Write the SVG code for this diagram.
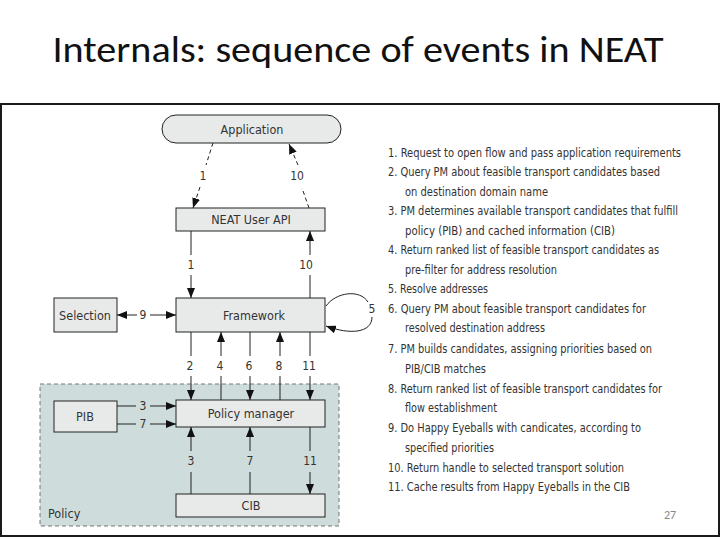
<svg xmlns="http://www.w3.org/2000/svg" width="720" height="540" viewBox="0 0 720 540">
<defs>
<style>
.box{fill:#e8eaea;stroke:#222;stroke-width:1}
.lbl{font-family:"Liberation Sans Narrow","DejaVu Sans Condensed","Liberation Sans",sans-serif;font-size:12.5px;fill:#333;text-anchor:middle;dominant-baseline:central}
.num{font-family:"Liberation Sans Narrow","DejaVu Sans Condensed","Liberation Sans",sans-serif;font-size:12px;fill:#333;text-anchor:middle;dominant-baseline:central}
.ln{stroke:#222;stroke-width:1;fill:none}
.dash{stroke:#222;stroke-width:1;fill:none;stroke-dasharray:4 3}
.lst{font-family:"Liberation Sans Narrow","DejaVu Sans Condensed","Liberation Sans",sans-serif;font-size:11.8px;fill:#333}
</style>
<marker id="ah" viewBox="0 0 10 8" refX="10" refY="4" markerWidth="10" markerHeight="8" markerUnits="userSpaceOnUse" orient="auto">
<path d="M0,0 L10,4 L0,8 z" fill="#111"/>
</marker>
</defs>
<rect x="0" y="0" width="720" height="540" fill="#fff"/>
<text x="358" y="62" font-family="Carlito,'Liberation Sans',sans-serif" font-size="36" fill="#111" text-anchor="middle" textLength="611" lengthAdjust="spacingAndGlyphs">Internals: sequence of events in NEAT</text>
<rect x="1" y="104" width="718" height="432" fill="none" stroke="#1a1a1a" stroke-width="2"/>

<g id="policy">
<rect x="40" y="384" width="299" height="142" fill="#cfdcdc" stroke="#777" stroke-width="1" stroke-dasharray="4 3"/>
<text x="48" y="513" class="lbl" style="text-anchor:start">Policy</text>
</g>
<g id="application">
<rect x="162" y="115" width="179" height="28" rx="14" class="box"/>
<text x="252" y="129.5" class="lbl">Application</text>
</g>
<g id="neat-user-api">
<rect x="176" y="208" width="149" height="23" class="box"/>
<text x="251" y="219.5" class="lbl">NEAT User API</text>
</g>
<g id="framework">
<rect x="176" y="298" width="149" height="34" class="box"/>
<text x="254" y="315" class="lbl">Framework</text>
</g>
<g id="selection">
<rect x="54" y="298" width="63" height="34" class="box"/>
<text x="85" y="315" class="lbl">Selection</text>
</g>
<g id="policy-manager">
<rect x="176" y="400" width="149" height="27" class="box"/>
<text x="251" y="413.5" class="lbl">Policy manager</text>
</g>
<g id="pib">
<rect x="54" y="401" width="63" height="31" class="box"/>
<text x="85" y="416" class="lbl">PIB</text>
</g>
<g id="cib">
<rect x="176" y="494" width="149" height="23" class="box"/>
<text x="251" y="505.5" class="lbl">CIB</text>
</g>

<g id="connectors">
<line x1="213" y1="143" x2="206" y2="165" class="dash"/>
<line x1="200" y1="187" x2="193" y2="208" class="dash" marker-end="url(#ah)"/>
<text x="203" y="176" class="num">1</text>
<line x1="309" y1="208" x2="302" y2="188" class="dash"/>
<line x1="298" y1="165" x2="289" y2="144" class="dash" marker-end="url(#ah)"/>
<text x="297" y="176" class="num">10</text>
<line x1="191" y1="231" x2="191" y2="255" class="ln"/>
<line x1="191" y1="275" x2="191" y2="298" class="ln" marker-end="url(#ah)"/>
<text x="191" y="265" class="num">1</text>
<line x1="310" y1="298" x2="310" y2="275" class="ln"/>
<line x1="310" y1="255" x2="310" y2="231" class="ln" marker-end="url(#ah)"/>
<text x="306" y="265" class="num">10</text>
<line x1="137" y1="315" x2="117" y2="315" class="ln" marker-end="url(#ah)"/>
<line x1="150" y1="315" x2="176" y2="315" class="ln" marker-end="url(#ah)"/>
<text x="143" y="315" class="num">9</text>
<path d="M326,306 C336,292 360,289 368,302" class="ln"/>
<path d="M372,317 C372,333 350,335 326,326" class="ln" marker-end="url(#ah)"/>
<text x="372" y="309" class="num">5</text>
<line x1="191" y1="332" x2="191" y2="356" class="ln"/>
<line x1="191" y1="376" x2="191" y2="400" class="ln" marker-end="url(#ah)"/>
<text x="190" y="366" class="num">2</text>
<line x1="221" y1="400" x2="221" y2="376" class="ln"/>
<line x1="221" y1="356" x2="221" y2="332" class="ln" marker-end="url(#ah)"/>
<text x="220" y="366" class="num">4</text>
<line x1="250" y1="332" x2="250" y2="356" class="ln"/>
<line x1="250" y1="376" x2="250" y2="400" class="ln" marker-end="url(#ah)"/>
<text x="249" y="366" class="num">6</text>
<line x1="280" y1="400" x2="280" y2="376" class="ln"/>
<line x1="280" y1="356" x2="280" y2="332" class="ln" marker-end="url(#ah)"/>
<text x="279" y="366" class="num">8</text>
<line x1="310" y1="332" x2="310" y2="356" class="ln"/>
<line x1="310" y1="376" x2="310" y2="400" class="ln" marker-end="url(#ah)"/>
<text x="309" y="366" class="num">11</text>
<line x1="117" y1="406" x2="136" y2="406" class="ln"/>
<line x1="150" y1="406" x2="176" y2="406" class="ln" marker-end="url(#ah)"/>
<text x="143" y="406" class="num">3</text>
<line x1="117" y1="424" x2="136" y2="424" class="ln"/>
<line x1="150" y1="424" x2="176" y2="424" class="ln" marker-end="url(#ah)"/>
<text x="143" y="424" class="num">7</text>
<line x1="191" y1="494" x2="191" y2="472" class="ln"/>
<line x1="191" y1="451" x2="191" y2="427" class="ln" marker-end="url(#ah)"/>
<text x="191" y="461" class="num">3</text>
<line x1="250" y1="494" x2="250" y2="472" class="ln"/>
<line x1="250" y1="451" x2="250" y2="427" class="ln" marker-end="url(#ah)"/>
<text x="250" y="461" class="num">7</text>
<line x1="310" y1="427" x2="310" y2="451" class="ln"/>
<line x1="310" y1="472" x2="310" y2="494" class="ln" marker-end="url(#ah)"/>
<text x="310" y="461" class="num">11</text>
</g>

<g id="steps" class="lst">
<text x="388" y="156.5" textLength="293" lengthAdjust="spacingAndGlyphs">1. Request to open flow and pass application requirements</text>
<text x="388" y="176" textLength="272" lengthAdjust="spacingAndGlyphs">2. Query PM about feasible transport candidates based</text>
<text x="405" y="195.5" textLength="143" lengthAdjust="spacingAndGlyphs">on destination domain name</text>
<text x="388" y="215" textLength="290" lengthAdjust="spacingAndGlyphs">3. PM determines available transport candidates that fulfill</text>
<text x="405" y="234.5" textLength="210" lengthAdjust="spacingAndGlyphs">policy (PIB) and cached information (CIB)</text>
<text x="388" y="254" textLength="271" lengthAdjust="spacingAndGlyphs">4. Return ranked list of feasible transport candidates as</text>
<text x="405" y="273.5" textLength="152" lengthAdjust="spacingAndGlyphs">pre-filter for address resolution</text>
<text x="388" y="293" textLength="100" lengthAdjust="spacingAndGlyphs">5. Resolve addresses</text>
<text x="388" y="312.5" textLength="258" lengthAdjust="spacingAndGlyphs">6. Query PM about feasible transport candidates for</text>
<text x="405" y="332" textLength="140" lengthAdjust="spacingAndGlyphs">resolved destination address</text>
<text x="388" y="353" textLength="264" lengthAdjust="spacingAndGlyphs">7. PM builds candidates, assigning priorities based on</text>
<text x="405" y="373" textLength="81" lengthAdjust="spacingAndGlyphs">PIB/CIB matches</text>
<text x="388" y="392.5" textLength="274" lengthAdjust="spacingAndGlyphs">8. Return ranked list of feasible transport candidates for</text>
<text x="405" y="412" textLength="92" lengthAdjust="spacingAndGlyphs">flow establishment</text>
<text x="388" y="432" textLength="253" lengthAdjust="spacingAndGlyphs">9. Do Happy Eyeballs with candicates, according to</text>
<text x="405" y="452" textLength="89" lengthAdjust="spacingAndGlyphs">specified priorities</text>
<text x="388" y="471.5" textLength="236" lengthAdjust="spacingAndGlyphs">10. Return handle to selected transport solution</text>
<text x="388" y="491" textLength="242" lengthAdjust="spacingAndGlyphs">11. Cache results from Happy Eyeballs in the CIB</text>
</g>
<text x="670" y="519" font-family="Carlito,'Liberation Sans',sans-serif" font-size="12" fill="#888" text-anchor="middle">27</text>
</svg>
